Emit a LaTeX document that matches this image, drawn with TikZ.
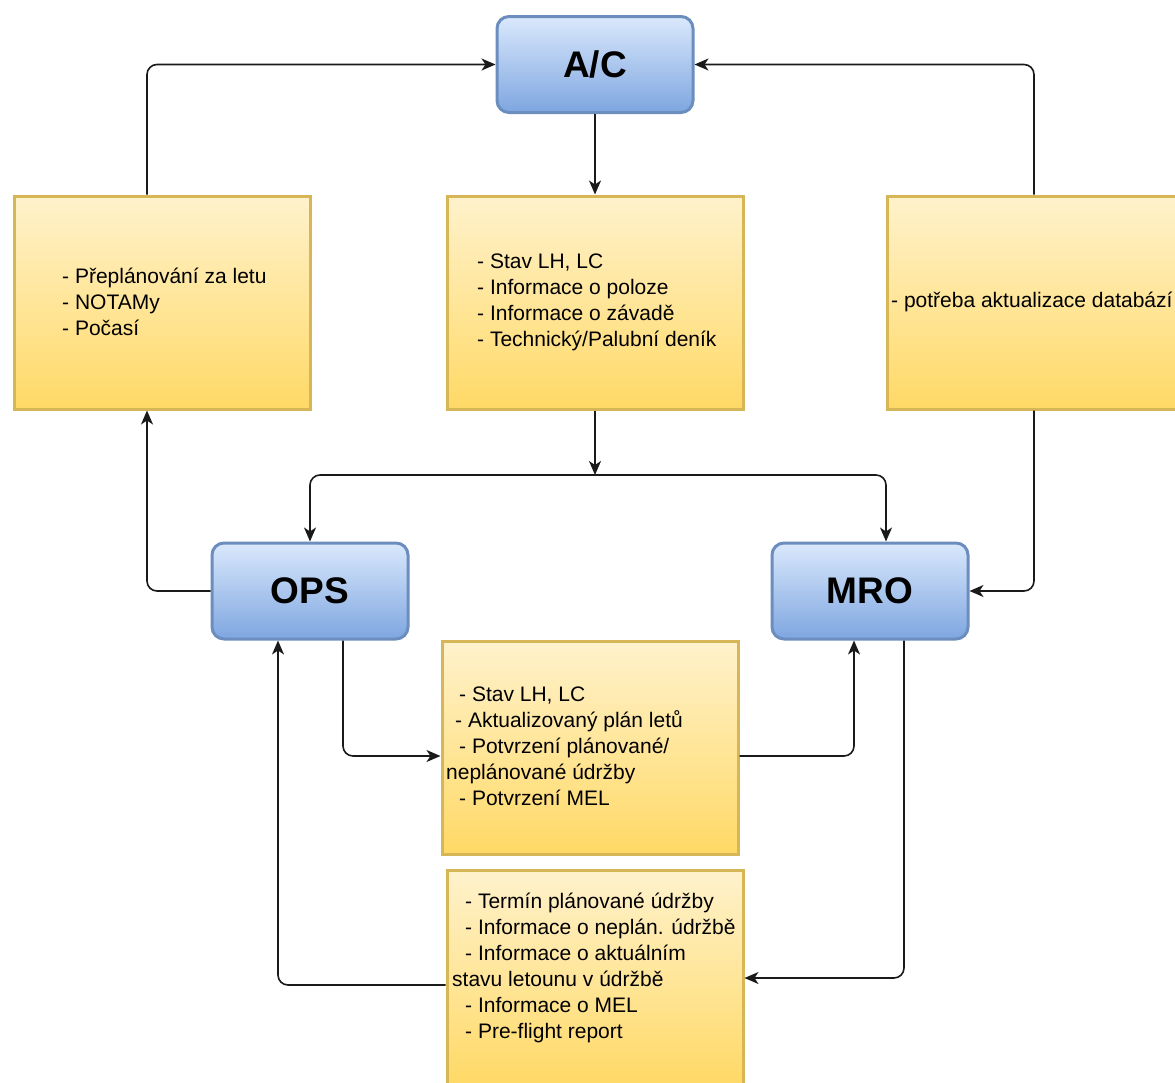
\documentclass[tikz,border=0pt]{standalone}
\usepackage{fontspec}
\setmainfont{Liberation Sans}
\usetikzlibrary{arrows.meta}
\definecolor{blueTop}{HTML}{DAE8FC}
\definecolor{blueBot}{HTML}{7EA6E0}
\definecolor{blueLine}{HTML}{6C8EBF}
\definecolor{yelTop}{HTML}{FFF2CC}
\definecolor{yelBot}{HTML}{FFD966}
\definecolor{yelLine}{HTML}{D6B656}
\definecolor{wire}{HTML}{1A1A1A}
\begin{document}
\begin{tikzpicture}[x=1pt,y=-1pt,
  actor/.style={draw=blueLine, line width=3pt, rounded corners=12pt,
    top color=blueTop, bottom color=blueBot,
    minimum width=196pt, minimum height=96pt, inner sep=0pt,
    font=\fontsize{37}{44}\selectfont\bfseries},
  note/.style={draw=yelLine, line width=3pt,
    top color=yelTop, bottom color=yelBot,
    minimum width=296pt, minimum height=213pt, inner sep=0pt},
  notetext/.style={font=\fontsize{21}{26}\selectfont, align=left,
    inner sep=0pt, anchor=west},
  conn/.style={draw=wire, line width=1.6pt, rounded corners=10pt,
    -{Stealth[length=14pt,width=12pt,inset=4pt]}}]

\path[use as bounding box, clip] (0,0) rectangle (1175,1082);

% actors
\node[actor] (ac)  at (595,64.5) {A/C};
\node[actor] (ops) at (310,591)  {OPS};
\node[actor] (mro) at (870,591)  {MRO};

% information boxes
\node[note] (lbox) at (162,302.5) {};
\node[note] (cbox) at (595,302.5) {};
\node[note] (rbox) at (1035,302.5) {};
\node[note] (mbox) at (590,747.5) {};
\node[note, minimum height=215pt] (bbox) at (595,978) {};

\node[notetext] (lt) at (62,302)
  {- Přeplánování za letu\\- NOTAMy\\- Počasí};
\node[notetext] (ct) at (477,302)
  {- Stav LH, LC\\- Informace o poloze\\- Informace o závadě\\- Technický/Palubní deník};
\node[notetext] (rt) at (891,302)
  {- potřeba aktualizace databází};
\node[notetext] (mt) at (446,746)
  {\hspace*{13pt}- Stav LH, LC\\\hspace*{9pt}- Aktualizovaný plán letů\\\hspace*{13pt}- Potvrzení plánované/\\neplánované údržby\\\hspace*{13pt}- Potvrzení MEL};
\node[notetext] (bt) at (452,968)
  {\hspace*{13pt}- Termín plánované údržby\\\hspace*{13pt}- Informace o neplán. údržbě\\\hspace*{13pt}- Informace o aktuálním\\stavu letounu v údržbě\\\hspace*{13pt}- Informace o MEL\\\hspace*{13pt}- Pre-flight report};

% connectors
\coordinate (split) at (595,475);
\draw[conn] ([xshift=-15pt]lbox.north) |- (ac.west);
\draw[conn] ([xshift=-1pt]rbox.north) |- (ac.east);
\draw[conn] (ac.south) -- (cbox.north);
\draw[conn] (cbox.south) -- (split);
\draw[conn] (split) -| (ops.north);
\draw[conn] (split) -| ([xshift=16pt]mro.north);
\draw[conn] (ops.west) -| ([xshift=-15pt]lbox.south);
\draw[conn] ([xshift=-1pt]rbox.south) |- (mro.east);
\draw[conn] ([xshift=33pt]ops.south) |- ([yshift=-8.5pt]mbox.west);
\draw[conn] ([yshift=-8.5pt]mbox.east) -| ([xshift=-16pt]mro.south);
\draw[conn] ([xshift=34pt]mro.south) |- (bbox.east);
\draw[conn] ([yshift=-7pt]bbox.west) -| ([xshift=-32pt]ops.south);
\end{tikzpicture}
\end{document}
